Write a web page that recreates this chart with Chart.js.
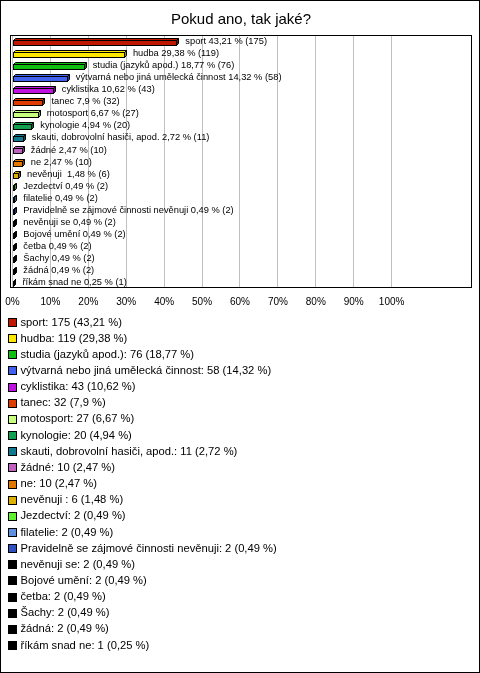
<!DOCTYPE html>
<html>
<head>
<meta charset="utf-8">
<script src="https://cdn.jsdelivr.net/npm/chart.js@4.4.1/dist/chart.umd.min.js"></script>
<style>
  html, body { margin: 0; padding: 0; background: #fff; }
  canvas { display: block; }
</style>
</head>
<body>
<canvas id="myChart" width="480" height="673"></canvas>
<script>
const categories = ['sport', 'hudba', 'studia (jazyků apod.)', 'výtvarná nebo jiná umělecká činnost',
  'cyklistika', 'tanec', 'motosport', 'kynologie', 'skauti, dobrovolní hasiči, apod.', 'žádné', 'ne',
  'nevěnuji ', 'Jezdectví', 'filatelie', 'Pravidelně se zájmové činnosti nevěnuji', 'nevěnuji se',
  'Bojové umění', 'četba', 'Šachy', 'žádná', 'říkám snad ne']
const counts = [175, 119, 76, 58, 43, 32, 27, 20, 11, 10, 10, 6, 2, 2, 2, 2, 2, 2, 2, 2, 1]
const percents = [43.21, 29.38, 18.77, 14.32, 10.62, 7.9, 6.67, 4.94, 2.72, 2.47, 2.47, 1.48,
  0.49, 0.49, 0.49, 0.49, 0.49, 0.49, 0.49, 0.49, 0.25]
const colors = ['#c01800', '#ffe800', '#10c010', '#4060f0', '#c010e0', '#e03c00', '#c8ff80',
  '#10a050', '#107890', '#c060c0', '#e07800', '#e0b000', '#60f030', '#6090e0', '#3050c0',
  '#000000', '#000000', '#000000', '#000000', '#000000', '#000000']
const tickValues = [0, 10, 20, 30, 40, 50, 60, 70, 80, 90, 100]

const fmt = v => String(v).replace('.', ',')

function darker(hex, f) {
  let n = parseInt(hex.slice(1), 16)
  let r = Math.round(((n >> 16) & 255) * f), g = Math.round(((n >> 8) & 255) * f), b = Math.round((n & 255) * f)
  return `rgb(${r},${g},${b})`
}

const frame = {
  id: 'frame',
  beforeDraw: (chart) => {
    const ctx = chart.ctx
    ctx.save()
    ctx.fillStyle = '#fff'
    ctx.fillRect(0, 0, chart.width, chart.height)
    ctx.restore()
  },
  afterDraw: (chart) => {
    const ctx = chart.ctx
    const a = chart.chartArea
    ctx.save()
    ctx.strokeStyle = '#000'
    ctx.lineWidth = 1
    ctx.strokeRect(0.5, 0.5, chart.width - 1, chart.height - 1)
    ctx.strokeRect(a.left + 0.5, a.top + 0.5, a.right - a.left - 1, a.bottom - a.top - 1)

    // legend, one item per line
    ctx.font = '11.2px "Liberation Sans", Arial, sans-serif'
    ctx.textBaseline = 'middle'
    categories.forEach((c, i) => {
      const y = 322 + i * 16.15
      const yb = Math.round(y) - 4
      ctx.fillStyle = colors[i]
      ctx.fillRect(8, yb, 9, 9)
      ctx.strokeStyle = '#000'
      ctx.strokeRect(8.5, yb + 0.5, 8, 8)
      ctx.fillStyle = '#000'
      ctx.fillText(`${c}: ${counts[i]} (${fmt(percents[i])} %)`, 20.5, y + 0.5)
    })
    ctx.restore()
  }
}

// 3d bars + value labels
const bars3d = {
  id: 'bars3d',
  afterDatasetsDraw: (chart) => {
    const ctx = chart.ctx
    const meta = chart.getDatasetMeta(0)
    const d = 2
    ctx.save()
    ctx.lineWidth = 1
    ctx.strokeStyle = '#000'
    meta.data.forEach((el, i) => {
      const x0 = Math.round(el.base) + 0.5
      const x1 = Math.round(el.x) + 0.5
      const yt = Math.round(el.y) - 0.5
      const yb = yt + 5
      ctx.fillStyle = colors[i]
      ctx.fillRect(x0, yt, x1 - x0, yb - yt)
      ctx.strokeRect(x0, yt, x1 - x0, yb - yt)
      ctx.beginPath()
      ctx.moveTo(x0, yt); ctx.lineTo(x0 + d, yt - d); ctx.lineTo(x1 + d, yt - d); ctx.lineTo(x1, yt); ctx.closePath()
      ctx.fill(); ctx.stroke()
      ctx.fillStyle = darker(colors[i], 0.6)
      ctx.beginPath()
      ctx.moveTo(x1, yt); ctx.lineTo(x1 + d, yt - d); ctx.lineTo(x1 + d, yb - d); ctx.lineTo(x1, yb); ctx.closePath()
      ctx.fill(); ctx.stroke()

      ctx.fillStyle = '#000'
      ctx.font = '9.3px "Liberation Sans", Arial, sans-serif'
      ctx.textBaseline = 'middle'
      ctx.fillText(`${categories[i]} ${fmt(percents[i])} % (${counts[i]})`, el.x + 9, el.y + 0.5)
    })
    ctx.restore()
  }
}

let myChart = new Chart(document.getElementById('myChart'), {
  type: 'bar',
  data: {
    labels: categories,
    datasets: [{
      data: percents,
      backgroundColor: 'rgba(0,0,0,0)',
      borderWidth: 0,
      barThickness: 5,
    }]
  },
  plugins: [frame, bars3d],
  options: {
    indexAxis: 'y',
    responsive: false,
    animation: false,
    layout: { padding: { top: 0, left: 10, right: 8, bottom: 365 } },
    scales: {
      x: {
        type: 'linear',
        min: -0.66,
        max: 121.2,
        afterBuildTicks: (s) => { s.ticks = tickValues.map(v => ({ value: v })) },
        afterFit: (s) => { s.height = 20; s.paddingLeft = 0; s.paddingRight = 0 },
        grid: { color: '#c0c0c0', drawTicks: false },
        border: { display: false },
        ticks: {
          padding: 8,
          color: '#000',
          font: { family: '"Liberation Sans", Arial, sans-serif', size: 10 },
          callback: (v) => v + '%'
        }
      },
      y: { display: false }
    },
    plugins: {
      legend: { display: false },
      tooltip: { enabled: false },
      title: {
        display: true,
        text: 'Pokud ano, tak jaké?',
        color: '#000',
        font: { family: '"Liberation Sans", Arial, sans-serif', size: 15, weight: 'normal' },
        padding: { top: 11, bottom: 6 }
      }
    }
  }
})
</script>
</body>
</html>
